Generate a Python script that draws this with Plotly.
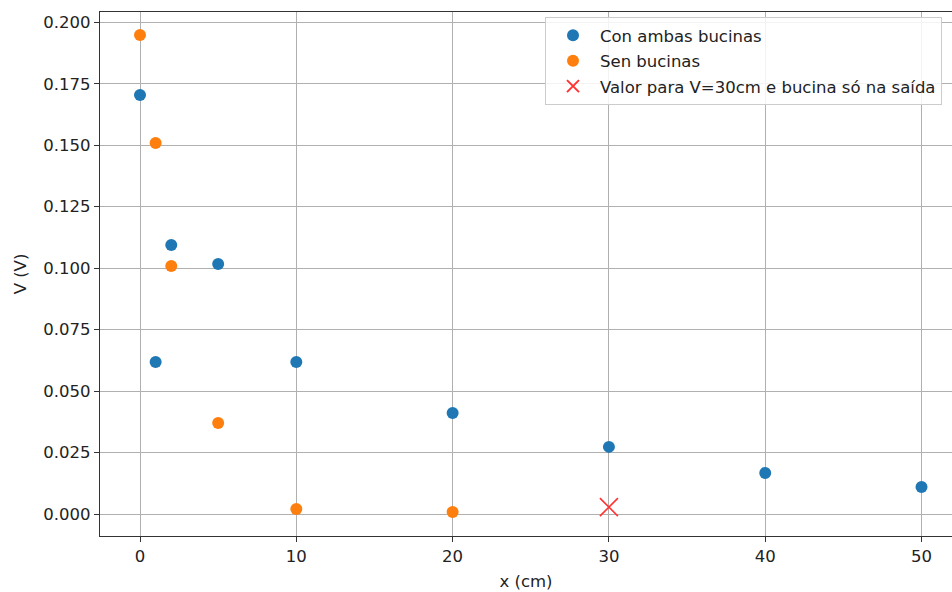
import plotly.graph_objects as go

# Distance (cm) and measured voltage (V)
x_both = [0, 1, 2, 5, 10, 20, 30, 40, 50]
v_both = [0.1704, 0.0618, 0.1094, 0.1017, 0.0618, 0.0411, 0.0273, 0.0167, 0.0110]

x_none = [0, 1, 2, 5, 10, 20]
v_none = [0.1948, 0.1509, 0.1009, 0.0370, 0.0020, 0.0008]

x_exit = [30]
v_exit = [0.0028]

y_ticks = [0.000, 0.025, 0.050, 0.075, 0.100, 0.125, 0.150, 0.175, 0.200]
x_ticks = [0, 10, 20, 30, 40, 50]

FONT = "DejaVu Sans"
TXT = "#222222"
FS = 16.5

fig = go.Figure()
fig.add_trace(go.Scatter(
    x=x_both, y=v_both, mode="markers", name="Con ambas bucinas",
    legendgroup="a",
    marker=dict(color="#1f77b4", size=12),
))
fig.add_trace(go.Scatter(
    x=x_none, y=v_none, mode="markers", name="Sen bucinas",
    legendgroup="b",
    marker=dict(color="#ff7f0e", size=12),
))
fig.add_trace(go.Scatter(
    x=x_exit, y=v_exit, mode="markers",
    name="Valor para V=30cm e bucina só na saída",
    legendgroup="c",
    marker=dict(color="#ff3333", size=18, symbol="x-thin",
                line=dict(color="#ff3333", width=1.6)),
))

fig.update_layout(
    width=952, height=592,
    margin=dict(l=100, r=0, t=12, b=56),
    paper_bgcolor="white", plot_bgcolor="white",
    font=dict(family=FONT, size=FS, color=TXT),
    showlegend=True,
    legend=dict(
        x=(545 - 100) / 852, y=1 - (17 - 12) / 524,
        xanchor="left", yanchor="top",
        bgcolor="rgba(255,255,255,0.85)", bordercolor="#cccccc", borderwidth=1,
        font=dict(family=FONT, size=FS, color=TXT),
        tracegroupgap=1, itemsizing="constant", itemwidth=44,
    ),
)

fig.update_xaxes(
    range=[-2.56, 51.95],
    tickvals=x_ticks, ticktext=[str(t) for t in x_ticks],
    showgrid=True, gridcolor="#b0b0b0", gridwidth=1,
    zeroline=False,
    showline=True, linecolor="#333333", linewidth=1.2, mirror=True,
    ticks="outside", ticklen=5, tickcolor="#333333",
    title=dict(text="x (cm)", standoff=10, font=dict(family=FONT, size=FS, color=TXT)),
)
fig.update_yaxes(
    range=[-0.00895, 0.2042],
    tickvals=y_ticks, ticktext=[f"{t:.3f}" for t in y_ticks],
    showgrid=True, gridcolor="#b0b0b0", gridwidth=1,
    zeroline=False,
    showline=True, linecolor="#333333", linewidth=1.2, mirror=False,
    ticks="outside", ticklen=5, tickcolor="#333333",
    title=dict(text="V (V)", standoff=12, font=dict(family=FONT, size=FS, color=TXT)),
)

fig.write_html("out.html")
